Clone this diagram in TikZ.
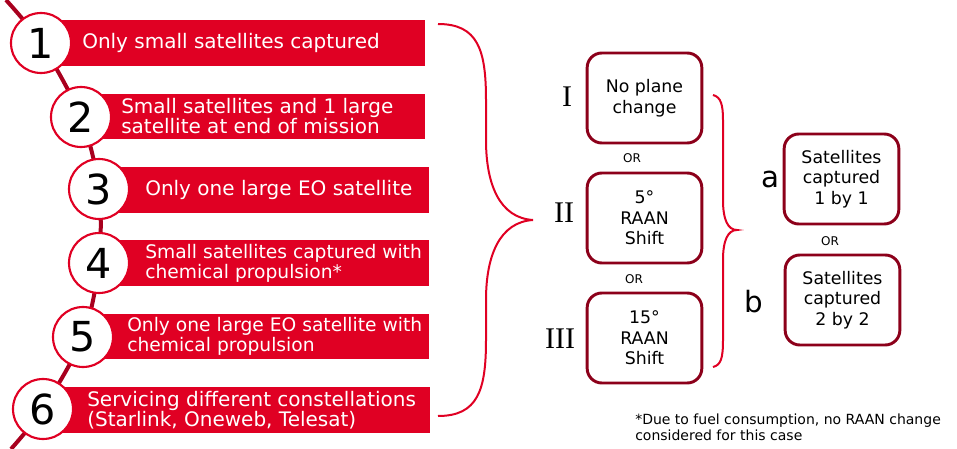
\documentclass[tikz,border=0pt]{standalone}
\usepackage{fontspec}
\setmainfont{DejaVu Sans}
\newfontfamily\romanfont{Liberation Serif}
\definecolor{barred}{RGB}{224,0,35}
\definecolor{chainred}{RGB}{168,0,30}
\definecolor{boxred}{RGB}{140,0,26}

\begin{document}
\begin{tikzpicture}[x=0.75pt,y=-0.75pt,
  numcirc/.style={circle,draw=barred,line width=1.6pt,fill=white,minimum size=45pt,inner sep=0pt,font=\fontsize{31}{31}\selectfont},
  bartext/.style={anchor=west,text=white,align=left,inner sep=0pt,font=\fontsize{15}{15}\selectfont},
  smallbartext/.style={bartext,font=\fontsize{14}{15}\selectfont},
  optbox/.style={draw=boxred,line width=2.2pt,rounded corners=11pt,minimum width=86pt,minimum height=67.5pt,align=center,inner sep=0pt,font=\fontsize{13}{15.5}\selectfont},
  ortext/.style={inner sep=0pt,font=\fontsize{9}{9}\selectfont},
  numeral/.style={anchor=base,inner sep=0pt,font=\romanfont\fontsize{22.5}{22.5}\selectfont},
  letter/.style={anchor=base,inner sep=0pt,font=\fontsize{22}{22}\selectfont},
  brace/.style={draw=barred,line width=1.5pt}]

\def\barR{425}
\def\barRR{429}

\useasboundingbox (0,0) rectangle (957,449);

% circle centres
\coordinate (ctop) at (6,0);
\coordinate (c1) at (41,43);
\coordinate (c2) at (81,117);
\coordinate (c3) at (99,189);
\coordinate (c4) at (99,263);
\coordinate (c5) at (83,337);
\coordinate (c6) at (43,409);
\coordinate (cbot) at (11,449);

% chain behind the circles
\draw [chainred,line width=3pt] plot [smooth] coordinates {(ctop) (c1) (c2) (c3) (c4) (c5) (c6) (cbot)};

% bars
\fill [barred] (c1 |- 0,20) rectangle (\barR,66);
\fill [barred] (c2 |- 0,94) rectangle (\barR,139);
\fill [barred] (c3 |- 0,167) rectangle (\barRR,213);
\fill [barred] (c4 |- 0,240) rectangle (\barRR,286);
\fill [barred] (c5 |- 0,314) rectangle (\barRR,359);
\fill [barred] (c6 |- 0,387) rectangle (\barRR+1,433);

% numbered circles
\node [numcirc] (n1) at (c1) {1};
\node [numcirc] (n2) at (c2) {2};
\node [numcirc] (n3) at (c3) {3};
\node [numcirc] (n4) at (c4) {4};
\node [numcirc] (n5) at (c5) {5};
\node [numcirc] (n6) at (c6) {6};

% bar texts
\node [bartext] (t1) at (82,43) {Only small satellites captured};
\node [bartext] (t2) at (121,116.5) {Small satellites and 1 large\\satellite at end of mission};
\node [bartext] (t3) at (145,190) {Only one large EO satellite};
\node [smallbartext] (t4) at (145,263) {Small satellites captured with\\chemical propulsion*};
\node [smallbartext] (t5) at (127,336.5) {Only one large EO satellite with\\chemical propulsion};
\node [bartext] (t6) at (87,410) {Servicing different constellations\\(Starlink, Oneweb, Telesat)};

% big brace
\draw [brace] (438,24) .. controls (478,24) and (486,50) .. (486,100) -- (486,140)
      .. controls (486,185) and (500,218) .. (533,220)
      .. controls (500,222) and (486,255) .. (486,300) -- (486,340)
      .. controls (486,390) and (478,416) .. (438,416);

% plane change options
\node [optbox] (p1) at (644.5,98) {No plane\\change};
\node [optbox] (p2) at (644.5,218) {5°\\RAAN\\Shift};
\node [optbox] (p3) at (644.5,338) {15°\\RAAN\\Shift};
\node [numeral] (r1) at (567,107) {I};
\node [numeral] (r2) at (564,223) {II};
\node [numeral] (r3) at (560,348) {III};
\node [ortext] (or1) at (632,158) {OR};
\node [ortext] (or2) at (634,279) {OR};

% small brace
\draw [brace] (713,95) .. controls (721,97) and (723,105) .. (723,120) -- (723,200)
      .. controls (723,220) and (728,230) .. (737,230)
      .. controls (728,230) and (723,240) .. (723,260) -- (723,340)
      .. controls (723,358) and (721,365) .. (713,367);

% capture options
\node [optbox] (pa) at (841.5,179) {Satellites\\captured\\1 by 1};
\node [optbox] (pb) at (842.5,300) {Satellites\\captured\\2 by 2};
\node [letter] (la) at (770,188) {a};
\node [letter] (lb) at (754,312) {b};
\node [ortext] (or3) at (830,241) {OR};

% footnote
\node [anchor=north west,align=left,inner sep=0pt,font=\fontsize{10.5}{12}\selectfont] (note) at (635,414)
      {*Due to fuel consumption, no RAAN change\\considered for this case};

\end{tikzpicture}
\end{document}
